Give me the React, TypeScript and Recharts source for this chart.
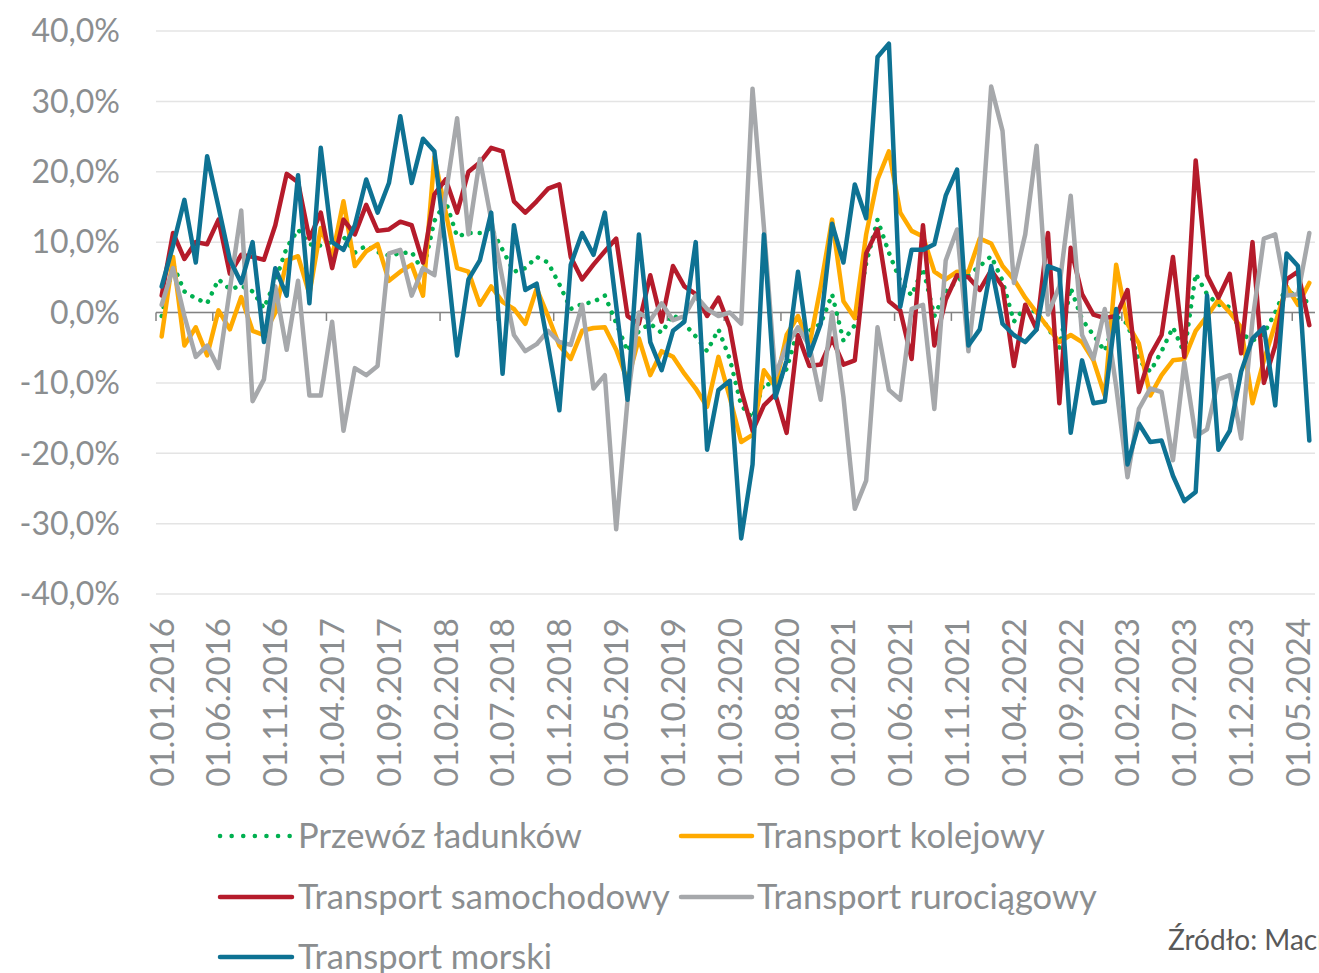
import React from 'react';
import { LineChart, Line, XAxis, YAxis, CartesianGrid, ReferenceLine } from 'recharts';

// monthly categories, 01.2016 .. 06.2024
const months = Array.from({ length: 102 }, (_, i) => {
  const m = (i % 12) + 1;
  const y = 2016 + Math.floor(i / 12);
  return `01.${String(m).padStart(2, '0')}.${y}`;
});

const tickIdx = [0, 5, 10, 15, 20, 25, 30, 35, 40, 45, 50, 55, 60, 65, 70, 75, 80, 85, 90, 95, 100];
const axisTickPos = [-0.5, 4.5, 9.5, 14.5, 19.5, 24.5, 29.5, 34.5, 39.5, 44.5, 49.5, 54.5, 59.5, 64.5, 69.5, 74.5, 79.5, 84.5, 89.5, 94.5, 99.5];
const yTicks = [-40, -30, -20, -10, 0, 10, 20, 30, 40];

const ladunki = [
  -0.5, 6.8, 3.0, 2.0, 1.3, 4.7, 3.3, 3.8, 3.0, 0.6, 4.5, 9.2,
  11.8, 9.7, 9.5, 10.0, 10.8, 8.5, 9.5, 8.6, 8.1, 8.4, 8.6, 5.8,
  13.0, 15.8, 10.8, 11.3, 11.3, 12.0, 8.9, 5.8, 6.3, 7.9, 7.1, 4.0,
  0.5, 1.2, 1.5, 2.4, -1.5, -5.5, -2.6, -1.6, -2.9, -0.3, -1.6, -3.4,
  -5.5, -2.4, -6.6, -13.2, -15.0, -10.0, -10.5, -8.0, -2.4, -2.6, -1.6, 2.6,
  -4.0, -1.8, 7.0, 13.2, 8.5, 4.5, 2.4, 6.3, -0.5, 3.0, 4.5, 5.3,
  6.6, 8.0, 4.5, -1.3, 0.8, 0.0, -2.1, -5.0, 3.5, -1.0, -3.2, -5.5,
  -0.5, -1.6, -6.8, -8.4, -5.5, -2.1, -5.8, 5.5, 2.6, 1.1, 0.8, -3.0,
  -4.0, -3.0, 0.0, 3.7, 1.6, 1.6,
];

const kolejowy = [
  -3.4, 7.9, -4.7, -2.1, -6.1, 0.3, -2.4, 2.2, -2.6, -3.2, 0.0, 7.4,
  8.0, 2.6, 12.0, 7.9, 15.8, 6.6, 8.7, 9.7, 4.5, 5.8, 6.8, 2.4,
  22.1, 14.2, 6.3, 5.8, 1.1, 3.7, 1.5, 0.5, -1.6, 3.4, -0.5, -4.7,
  -6.6, -2.6, -2.2, -2.1, -5.3, -9.7, -3.7, -8.9, -5.5, -6.3, -8.7, -10.8,
  -13.4, -6.3, -12.1, -18.4, -17.4, -8.2, -10.5, -3.2, -0.5, -4.7, 3.7, 13.2,
  1.6, -0.8, 11.1, 18.9, 22.9, 14.2, 11.6, 10.8, 5.8, 4.7, 5.8, 5.8,
  10.5, 9.8, 6.6, 4.7, 2.1, 0.0, -2.1, -4.2, -3.2, -4.2, -6.8, -11.8,
  6.8, -1.6, -4.4, -11.8, -8.9, -6.8, -6.6, -2.6, -0.5, 1.8, 0.0, -2.1,
  -12.9, -6.8, -1.6, 3.7, 1.1, 4.2,
];

const samochodowy = [
  2.4, 11.3, 7.6, 10.0, 9.7, 13.2, 5.5, 8.2, 7.9, 7.5, 12.4, 19.7,
  18.5, 10.5, 14.2, 6.3, 13.2, 11.1, 15.3, 11.6, 11.8, 12.9, 12.4, 7.1,
  16.8, 18.9, 14.2, 20.0, 21.3, 23.4, 22.9, 15.8, 14.2, 15.8, 17.6, 18.2,
  7.9, 4.7, 6.8, 8.7, 10.5, -0.5, -1.6, 5.3, -1.3, 6.6, 3.7, 2.6,
  -0.5, 2.1, -2.1, -11.0, -16.8, -13.2, -11.6, -17.1, -3.2, -7.6, -7.4, -3.7,
  -7.4, -6.8, 8.4, 11.8, 1.6, 0.3, -6.6, 12.4, -4.7, 1.8, 5.3, 5.0,
  3.2, 6.0, 3.7, -7.6, 1.1, -2.4, 11.3, -12.9, 9.2, 2.6, -0.3, -0.8,
  -0.5, 3.2, -11.3, -6.1, -3.2, 7.9, -6.3, 21.6, 5.3, 2.1, 5.5, -5.8,
  10.0, -10.0, -4.7, 4.7, 5.8, -1.8,
];

const rurociagowy = [
  1.1, 6.3, -0.5, -6.3, -4.7, -7.9, 3.3, 14.5, -12.6, -9.5, 3.7, -5.3,
  4.5, -11.8, -11.8, -1.3, -16.8, -7.9, -8.9, -7.6, 8.4, 8.9, 2.4, 6.3,
  5.3, 16.8, 27.6, 11.1, 21.8, 13.2, 4.7, -3.2, -5.5, -4.5, -2.6, -4.2,
  -4.6, 1.1, -10.8, -8.9, -30.8, -12.4, 0.0, -1.1, 1.3, -1.1, -0.5, 2.4,
  0.5, -0.5, 0.0, -1.6, 31.8, 12.1, -8.9, -4.7, -2.1, -4.7, -12.4, 0.0,
  -12.0, -27.9, -23.9, -2.1, -11.0, -12.4, 0.5, 1.1, -13.7, 7.4, 11.8, -5.5,
  8.9, 32.1, 25.8, 4.2, 11.1, 23.7, -0.3, 3.7, 16.6, -3.2, -6.6, 0.5,
  -10.5, -23.4, -13.7, -10.8, -11.3, -21.0, -7.1, -17.6, -16.6, -9.5, -8.9, -17.9,
  -1.1, 10.5, 11.1, 2.4, 2.6, 11.3,
];

const morski = [
  3.7, 9.5, 16.0, 7.1, 22.2, 15.0, 7.5, 4.2, 10.0, -4.2, 6.3, 2.4,
  19.5, 1.3, 23.4, 10.0, 8.9, 12.4, 18.9, 14.2, 18.4, 27.9, 18.4, 24.7,
  22.9, 9.0, -6.1, 4.7, 7.4, 14.2, -8.7, 12.4, 3.2, 4.1, -4.7, -13.9,
  6.8, 11.3, 8.2, 14.2, 1.0, -12.4, 11.1, -4.2, -8.2, -2.6, -1.3, 10.0,
  -19.5, -11.0, -9.7, -32.1, -21.6, 11.1, -12.1, -6.8, 5.8, -6.1, -1.6, 12.6,
  7.1, 18.2, 13.4, 36.3, 38.2, 0.8, 8.9, 8.9, 9.7, 16.6, 20.3, -4.7,
  -2.4, 6.6, -1.6, -3.2, -4.2, -2.4, 6.6, 6.0, -17.1, -6.8, -12.9, -12.6,
  0.5, -21.6, -15.8, -18.4, -18.2, -23.2, -26.8, -25.5, 2.4, -19.5, -16.8, -8.4,
  -3.7, -2.1, -13.2, 8.4, 6.6, -18.2,
];

const data = months.map((date, i) => ({
  i,
  date,
  ladunki: ladunki[i],
  kolejowy: kolejowy[i],
  samochodowy: samochodowy[i],
  rurociagowy: rurociagowy[i],
  morski: morski[i],
}));

const series = [
  { key: 'ladunki', name: 'Przewóz ładunków', color: '#00b050', dotted: true },
  { key: 'kolejowy', name: 'Transport kolejowy', color: '#ffaa00' },
  { key: 'samochodowy', name: 'Transport samochodowy', color: '#b51b2b' },
  { key: 'rurociagowy', name: 'Transport rurociągowy', color: '#a6a8ab' },
  { key: 'morski', name: 'Transport morski', color: '#0e7293' },
];

const FONT = 'Lato, "Open Sans", sans-serif';
const LABEL = '#8b8e90';

const fmtPct = (v: number) => `${v.toFixed(1).replace('.', ',')}%`;

const XTick = ({ x, y, payload }: any) => (
  <text
    x={x}
    y={y}
    transform={`rotate(-90, ${x}, ${y})`}
    textAnchor="end"
    dy="0.36em"
    fill={LABEL}
    fontSize={33}
    fontFamily={FONT}
  >
    {months[payload.value]}
  </text>
);

// legend slots: [sample x1, sample x2, text x, row y]
const legendPos = [
  [220, 292, 298, 836],
  [681, 752, 757, 836],
  [220, 292, 298, 897],
  [681, 752, 757, 897],
  [220, 292, 298, 957],
];

export default function App() {
  return (
    <div style={{ position: 'absolute', left: 0, top: 0, width: 1319, height: 973, background: '#fff', overflow: 'hidden', fontFamily: FONT }}>
      <LineChart width={1319} height={973} data={data} margin={{ top: 31, right: 4, bottom: 0, left: 16 }}>
        <CartesianGrid vertical={false} stroke="#e4e4e4" strokeWidth={1.5} />
        <XAxis
          dataKey="i"
          type="number"
          domain={[-0.5, 101.5]}
          ticks={tickIdx}
          interval={0}
          axisLine={false}
          tickLine={false}
          tickSize={0}
          tickMargin={24}
          height={379}
          tick={<XTick />}
        />
        <YAxis
          domain={[-40, 40]}
          ticks={yTicks}
          interval={0}
          width={140}
          axisLine={false}
          tickLine={false}
          tickSize={0}
          tickMargin={36}
          tick={{ fill: LABEL, fontSize: 32, fontFamily: FONT }}
          tickFormatter={fmtPct}
        />
        <ReferenceLine y={0} stroke="#828282" strokeWidth={1.5} />
        {axisTickPos.map((p) => (
          <ReferenceLine key={p} segment={[{ x: p, y: 0 }, { x: p, y: -1.2 }]} stroke="#828282" strokeWidth={1.5} />
        ))}
        {series.map((s) => (
          <Line
            key={s.key}
            dataKey={s.key}
            name={s.name}
            stroke={s.color}
            strokeWidth={4.5}
            strokeDasharray={s.dotted ? '0.1 9' : undefined}
            strokeLinecap="round"
            strokeLinejoin="round"
            dot={false}
            activeDot={false}
            isAnimationActive={false}
          />
        ))}
      </LineChart>

      <svg width={1319} height={973} style={{ position: 'absolute', left: 0, top: 0 }}>
        {series.map((s, k) => {
          const [x1, x2, tx, y] = legendPos[k];
          return (
            <g key={s.key}>
              <line
                x1={x1}
                x2={x2}
                y1={y}
                y2={y}
                stroke={s.color}
                strokeWidth={4.5}
                strokeLinecap="round"
                strokeDasharray={s.dotted ? '0.1 11.5' : undefined}
              />
              <text x={tx} y={y} dy="0.35em" fill={LABEL} fontSize={34.5} fontFamily={FONT}>
                {s.name}
              </text>
            </g>
          );
        })}
        <text x={1168} y={940} dy="0.35em" fill="#595959" fontSize={28} fontFamily={FONT}>
          Źródło: Macrobond
        </text>
      </svg>
    </div>
  );
}
